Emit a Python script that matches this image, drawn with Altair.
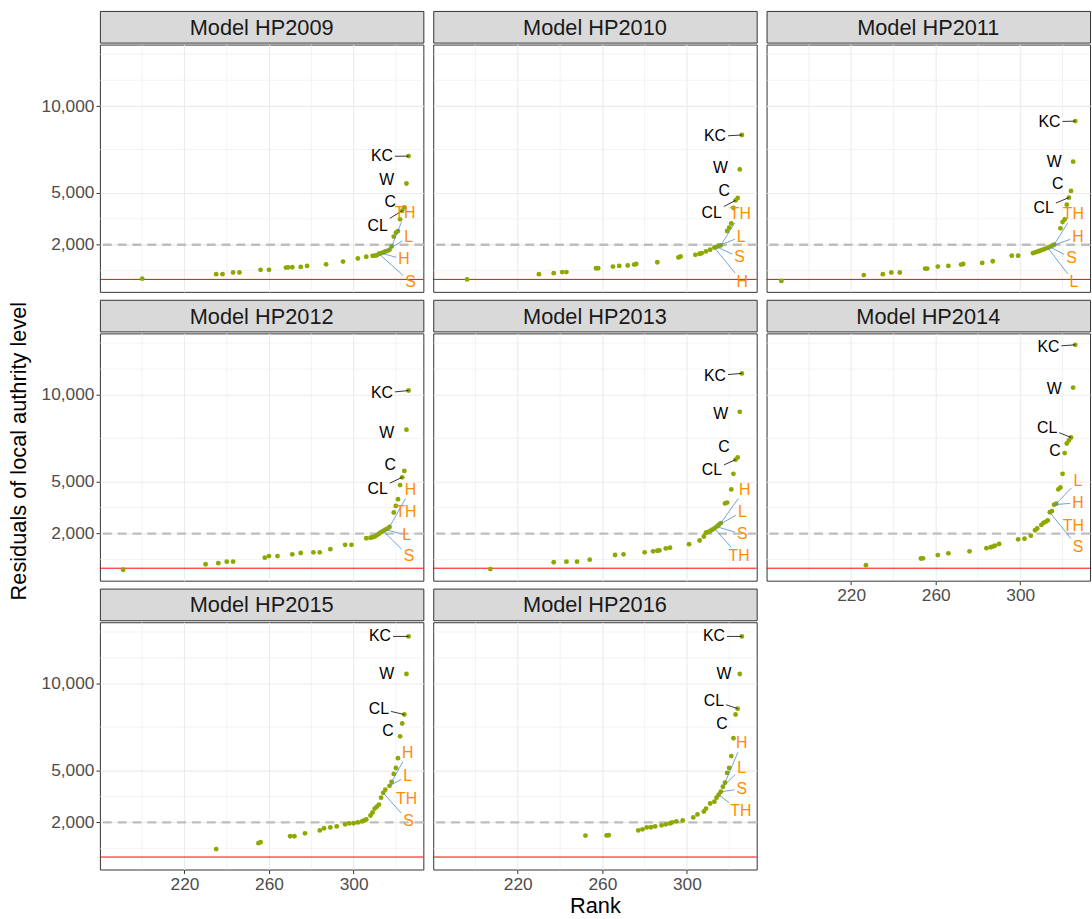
import altair as alt
import pandas as pd

# ---------------- data ----------------
MODELS = ["HP2009", "HP2010", "HP2011", "HP2012", "HP2013", "HP2014", "HP2015", "HP2016"]

rank_2009 = [200, 235, 238, 243, 246, 256, 260, 268, 269, 271, 275, 278, 287, 295, 302, 306, 309, 310, 311,
             312, 313, 314, 315, 316, 317, 318, 319, 320, 321, 322, 323, 324, 325, 326]
resid_2009 = [40, 300, 300, 400, 400, 550, 550, 680, 690, 700, 720, 780, 870, 1030, 1210, 1310, 1360, 1370, 1390,
              1480, 1520, 1560, 1610, 1650, 1710, 1900, 2470, 2700, 2790, 3470, 3965, 4160, 5540, 7120]

rank_2010 = [196, 230, 237, 241, 243, 257, 258, 265, 268, 272, 275, 276, 286, 296, 297, 304, 306, 307, 309, 311,
             313, 314, 315, 316, 319, 320, 321, 322, 323, 324, 325, 326]
resid_2010 = [0, 300, 360, 420, 420, 645, 645, 740, 780, 800, 855, 890, 990, 1270, 1320, 1420, 1480, 1520, 1615,
              1710, 1840, 1880, 1940, 1960, 2795, 2990, 3230, 4130, 4560, 4700, 6350, 8340]

rank_2011 = [187, 226, 235, 239, 243, 255, 256, 261, 266, 272, 273, 282, 287, 296, 299, 306, 307, 308, 309, 310,
             311, 312, 313, 314, 315, 316, 319, 320, 321, 322, 323, 324, 325, 326]
resid_2011 = [-90, 250, 300, 400, 400, 625, 625, 740, 780, 855, 890, 950, 1045, 1370, 1370, 1520, 1560, 1600, 1640,
              1690, 1730, 1780, 1830, 1880, 1940, 2000, 2950, 3310, 3460, 4315, 4720, 5110, 6800, 9140]

rank_2012 = [191, 230, 236, 240, 243, 258, 260, 264, 271, 275, 281, 284, 289, 296, 299, 306, 308, 309, 310, 311,
             312, 313, 314, 315, 316, 317, 319, 320, 321, 322, 323, 324, 325, 326]
resid_2012 = [-90, 230, 290, 380, 380, 610, 700, 700, 800, 880, 915, 915, 1100, 1350, 1350, 1730, 1760, 1790, 1830,
              1900, 1990, 2080, 2150, 2230, 2290, 2380, 3220, 3600, 3980, 4800, 5250, 5620, 8000, 10260]

rank_2013 = [207, 237, 243, 248, 254, 266, 270, 280, 284, 286, 287, 290, 292, 301, 306, 308, 309, 310, 311, 312,
             313, 314, 315, 316, 318, 319, 321, 322, 323, 324, 325, 326]
resid_2013 = [-50, 345, 380, 380, 495, 765, 800, 915, 975, 1010, 1030, 1145, 1180, 1390, 1600, 1830, 2050, 2100,
              2150, 2220, 2300, 2400, 2500, 2600, 3740, 3790, 4550, 5450, 6270, 6400, 9030, 11250]

rank_2014 = [227, 253, 254, 261, 266, 276, 284, 286, 287, 288, 290, 299, 302, 305, 307, 308, 310, 311, 312, 313,
             314, 315, 316, 317, 318, 319, 320, 321, 322, 323, 324, 325, 326]
resid_2014 = [170, 560, 570, 760, 860, 975, 1160, 1210, 1250, 1300, 1400, 1670, 1700, 1880, 2190, 2300, 2500, 2620,
              2680, 2760, 3230, 3300, 3670, 3730, 4550, 4660, 5450, 6650, 7200, 7380, 7550, 10430, 12900]

rank_2015 = [235, 255, 256, 270, 272, 277, 284, 286, 289, 292, 296, 298, 300, 302, 304, 305, 306, 308, 309, 310,
             311, 312, 313, 314, 315, 317, 318, 319, 320, 321, 322, 323, 324, 325, 326]
resid_2015 = [460, 800, 860, 1200, 1200, 1370, 1540, 1660, 1710, 1770, 1890, 1940, 1950, 2000, 2060, 2110, 2170,
              2400, 2570, 2800, 2910, 3030, 3430, 3710, 3890, 4110, 4340, 4800, 5140, 5710, 6970, 7710, 8230,
              10570, 12740]

rank_2016 = [252, 262, 263, 277, 279, 281, 283, 285, 288, 290, 292, 293, 295, 298, 303, 305, 308, 309, 311, 313,
             314, 315, 316, 317, 318, 319, 320, 321, 322, 323, 324, 325, 326]
resid_2016 = [1240, 1250, 1260, 1540, 1600, 1710, 1720, 1770, 1830, 1890, 1940, 2000, 2060, 2110, 2290, 2460, 2630,
              2800, 3090, 3200, 3430, 3600, 3770, 4060, 4290, 4860, 5140, 5830, 6860, 8230, 8570, 10570, 12740]

# labelled local authorities (order of these names is used by the lists below)
LABEL_NAMES = ["KC", "W", "C", "CL", "TH", "L", "H", "S"]
ORANGE_NAMES = ["TH", "L", "H", "S"]

# rank of the labelled point, and where its label sits (rank, residual)
lab_target_2009 = [326, 325, 324, 323, 318, 314, 313, 312]
lab_rank_2009 = [313.4, 315.7, 317.3, 311.4, 324.3, 326.1, 323.8, 326.9]
lab_resid_2009 = [7100, 5720, 4480, 3090, 3820, 2440, 1150, -150]

lab_target_2010 = [326, 325, 324, 323, 316, 315, 313, 314]
lab_rank_2010 = [313.3, 315.9, 317.6, 311.7, 325.3, 325.7, 326.2, 324.9]
lab_resid_2010 = [8250, 6440, 5110, 3840, 3780, 2470, -150, 1270]

lab_target_2011 = [326, 325, 324, 323, 316, 313, 315, 314]
lab_rank_2011 = [313.8, 316.1, 317.7, 311.1, 325.1, 325.4, 327.3, 324.2]
lab_resid_2011 = [9100, 6780, 5510, 4120, 3780, -150, 2470, 1220]

lab_target_2012 = [326, 325, 324, 323, 316, 315, 317, 314]
lab_rank_2012 = [313.4, 315.7, 317.3, 311.4, 324.8, 325.1, 326.9, 326.2]
lab_resid_2012 = [10110, 7820, 5970, 4580, 3260, 1910, 4540, 690]

lab_target_2013 = [326, 325, 324, 323, 313, 315, 316, 314]
lab_rank_2013 = [313.3, 316.0, 317.5, 311.8, 324.7, 326.2, 327.3, 326.2]
lab_resid_2013 = [11120, 8890, 7020, 5650, 690, 3260, 4540, 1960]

lab_target_2014 = [326, 325, 321, 324, 315, 317, 316, 314]
lab_rank_2014 = [313.3, 316.1, 316.4, 312.7, 325.1, 327.3, 327.3, 327.3]
lab_resid_2014 = [12790, 10360, 6790, 8110, 2440, 5020, 3780, 1200]

lab_target_2015 = [326, 325, 322, 324, 315, 317, 318, 314]
lab_rank_2015 = [312.5, 315.7, 316.2, 312.0, 325.1, 325.6, 325.6, 326.0]
lab_resid_2015 = [12740, 10570, 7260, 8570, 3370, 4690, 6000, 2060]

lab_target_2016 = [326, 325, 322, 324, 315, 317, 318, 316]
lab_rank_2016 = [312.8, 317.5, 316.6, 312.8, 325.5, 325.9, 325.9, 325.9]
lab_resid_2016 = [12740, 10570, 7660, 9030, 2630, 5140, 6570, 3940]

X_MAJOR = [220, 260, 300]
X_MINOR = [200, 240, 280, 320]
Y_MAJOR = [2000, 5000, 10000]
Y_MINOR = [500, 3500, 7500, 11500, 13000]
THRESHOLD = 2000
ZERO_LINE = 0
X_TITLE = "Rank"
Y_TITLE = "Residuals of local authrity level"

# ---------------- styling ----------------
XD = [180.0, 333.0]
YD = [-720.0, 13560.0]
PW, PH = 327, 250
STRIP_H = 32
GAP = 6
FONT = "Liberation Sans"
OLIVE = "#8EA800"
ORANGE = "#FF8C00"
BLUE = "#4F8BC9"
CHAR_W = {"K": 10.7, "C": 11.6, "W": 15.1, "L": 8.9, "T": 9.8, "H": 11.6, "S": 10.7}
MIN_SEG = 12

PANELS = {
    "HP2009": (rank_2009, resid_2009, lab_target_2009, lab_rank_2009, lab_resid_2009),
    "HP2010": (rank_2010, resid_2010, lab_target_2010, lab_rank_2010, lab_resid_2010),
    "HP2011": (rank_2011, resid_2011, lab_target_2011, lab_rank_2011, lab_resid_2011),
    "HP2012": (rank_2012, resid_2012, lab_target_2012, lab_rank_2012, lab_resid_2012),
    "HP2013": (rank_2013, resid_2013, lab_target_2013, lab_rank_2013, lab_resid_2013),
    "HP2014": (rank_2014, resid_2014, lab_target_2014, lab_rank_2014, lab_resid_2014),
    "HP2015": (rank_2015, resid_2015, lab_target_2015, lab_rank_2015, lab_resid_2015),
    "HP2016": (rank_2016, resid_2016, lab_target_2016, lab_rank_2016, lab_resid_2016),
}

SX = PW / (XD[1] - XD[0])
SY = PH / (YD[1] - YD[0])


def segments(ranks, resids, targets, lranks, lresids):
    lookup = dict(zip(ranks, resids))
    rows = []
    for name, t, lr, lv in zip(LABEL_NAMES, targets, lranks, lresids):
        pv = lookup[t]
        dx = (t - lr) * SX
        dy = (pv - lv) * SY
        hw = sum(CHAR_W[c] for c in name) / 2 + 2
        hh = 9.0
        s = min(hw / abs(dx) if dx else 1e9, hh / abs(dy) if dy else 1e9)
        length = (dx * dx + dy * dy) ** 0.5 * (1 - s)
        if s >= 1 or length < MIN_SEG:
            continue
        rows.append({
            "rank": t, "resid": pv,
            "rank2": lr + (t - lr) * s, "resid2": lv + (pv - lv) * s,
            "seg": BLUE if name in ORANGE_NAMES else "black",
        })
    return pd.DataFrame(rows, columns=["rank", "resid", "rank2", "resid2", "seg"])


def panel(model, show_x, show_y, xtitle=""):
    ranks, resids, targets, lranks, lresids = PANELS[model]
    xscale = alt.Scale(domain=XD, nice=False, zero=False)
    yscale = alt.Scale(domain=YD, nice=False, zero=False)
    xaxis = alt.Axis(values=X_MAJOR, grid=True, labels=show_x, ticks=show_x, domain=False,
                     title=xtitle, format="d")
    yaxis = alt.Axis(values=Y_MAJOR, grid=True, labels=show_y, ticks=show_y, domain=False,
                     title="", format=",d")
    X = alt.X("rank:Q", scale=xscale, axis=xaxis)
    Y = alt.Y("resid:Q", scale=yscale, axis=yaxis)

    pts = pd.DataFrame({"rank": ranks, "resid": resids})
    labs = pd.DataFrame({
        "rank": lranks, "resid": lresids, "name": LABEL_NAMES,
        "col": [ORANGE if n in ORANGE_NAMES else "black" for n in LABEL_NAMES],
    })
    segs = segments(ranks, resids, targets, lranks, lresids)

    minor_x = alt.Chart(pd.DataFrame({"rank": X_MINOR})).mark_rule(
        color="#EBEBEB", strokeWidth=0.6).encode(x=X)
    minor_y = alt.Chart(pd.DataFrame({"resid": Y_MINOR})).mark_rule(
        color="#EBEBEB", strokeWidth=0.6).encode(y=Y)
    dash = alt.Chart(pd.DataFrame({"resid": [THRESHOLD]})).mark_rule(
        color="#BEBEBE", strokeWidth=2.4, strokeDash=[9, 6]).encode(y=Y)
    red = alt.Chart(pd.DataFrame({"resid": [ZERO_LINE]})).mark_rule(
        color="#FF0000", strokeWidth=1).encode(y=Y)
    dots = alt.Chart(pts).mark_circle(size=24, opacity=1, color=OLIVE).encode(x=X, y=Y)
    seg = alt.Chart(segs).mark_rule(strokeWidth=0.8).encode(
        x=X, y=Y, x2="rank2:Q", y2="resid2:Q", color=alt.Color("seg:N", scale=None))
    txt = alt.Chart(labs).mark_text(fontSize=16, font=FONT, align="center", baseline="middle").encode(
        x=X, y=Y, text="name:N", color=alt.Color("col:N", scale=None))

    plot = alt.layer(minor_x, minor_y, dash, red, dots, seg, txt).properties(width=PW, height=PH)

    strip = alt.Chart(pd.DataFrame({"t": ["Model " + model]})).mark_text(
        fontSize=22, font=FONT, color="#1A1A1A", align="center", baseline="middle").encode(
        text="t:N", x=alt.value(PW / 2), y=alt.value(STRIP_H / 2 + 1)).properties(
        width=PW, height=STRIP_H,
        view=alt.ViewBackground(fill="#D9D9D9", stroke="#333333", strokeWidth=1))
    return alt.vconcat(strip, plot, spacing=0)


col1 = alt.vconcat(panel("HP2009", False, True),
                   panel("HP2012", False, True),
                   panel("HP2015", True, True), spacing=GAP)
col2 = alt.vconcat(panel("HP2010", False, False),
                   panel("HP2013", False, False),
                   panel("HP2016", True, False, xtitle=X_TITLE), spacing=GAP)
col3 = alt.vconcat(panel("HP2011", False, False),
                   panel("HP2014", True, False), spacing=GAP)

TOTAL_H = 3 * (STRIP_H + PH) + 2 * GAP
ytitle = alt.Chart(pd.DataFrame({"t": [Y_TITLE]})).mark_text(
    fontSize=22, font=FONT, color="black", angle=270, align="center", baseline="middle").encode(
    text="t:N", x=alt.value(19), y=alt.value(445)).properties(
    width=28, height=TOTAL_H, view=alt.ViewBackground(strokeWidth=0, fill="white"))

grid = alt.hconcat(col1, col2, col3, spacing=GAP)

chart = alt.hconcat(ytitle, grid, spacing=10).properties(
    padding={"left": 0, "top": 5, "right": 0, "bottom": 0}
).configure_view(
    stroke="#333333", strokeWidth=1, fill="white"
).configure_axis(
    labelFont=FONT, labelFontSize=17.5, labelColor="#4D4D4D", labelPadding=2,
    tickColor="#333333", tickSize=4, tickWidth=1,
    gridColor="#EBEBEB", gridWidth=1.1,
    titleFont=FONT, titleFontSize=22, titleFontWeight="normal", titleColor="black", titlePadding=3,
)

chart.save("out.html", embed_options={"renderer": "svg", "actions": False})
